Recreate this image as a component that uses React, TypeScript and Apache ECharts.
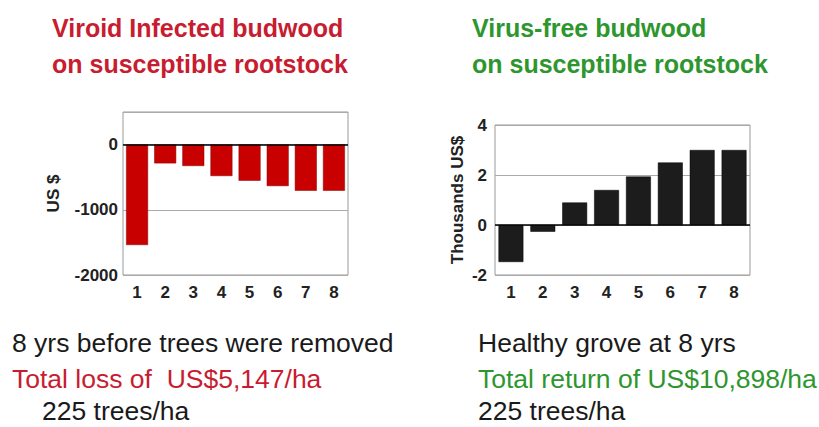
import React, { useEffect, useRef } from "react";
import * as echarts from "echarts";

const years = ["1", "2", "3", "4", "5", "6", "7", "8"];
const viroidLoss = [-1540, -288, -328, -482, -554, -636, -708, -708];
const virusFreeReturn = [-1.48, -0.27, 0.9, 1.4, 1.94, 2.5, 3.0, 3.0];

const leftTitle = ["Viroid Infected budwood", "on susceptible rootstock"];
const rightTitle = ["Virus-free budwood", "on susceptible rootstock"];
const leftNotes = ["8 yrs before trees were removed", "Total loss of  US$5,147/ha", "225 trees/ha"];
const rightNotes = ["Healthy grove at 8 yrs", "Total return of US$10,898/ha", "225 trees/ha"];

const RED = "#c81c30";
const GREEN = "#2e962e";
const FONT = "Liberation Sans, Arial, sans-serif";

export default function App() {
  const ref = useRef<HTMLDivElement>(null);
  useEffect(() => {
    if (!ref.current) return;
    const chart = echarts.init(ref.current, null, { renderer: "svg" });
    const axisLabel = { fontSize: 17, fontWeight: "bold", color: "#222", fontFamily: FONT };
    const nameStyle = { fontSize: 17, fontWeight: "bold", color: "#222", fontFamily: FONT };
    const txt = (x: number, y: number, text: string, color: string, size: number, bold: boolean) => ({
      type: "text",
      x,
      y,
      style: {
        text,
        fill: color,
        font: `${bold ? "bold " : ""}${size}px ${FONT}`,
        lineHeight: Math.round(size),
        textAlign: "left",
        textVerticalAlign: "middle",
      },
    });
    const zeroLine = {
      symbol: "none",
      silent: true,
      label: { show: false },
      lineStyle: { color: "#000", width: 1.5, type: "solid" },
      data: [{ yAxis: 0 }],
    };
    chart.setOption({
      animation: false,
      backgroundColor: "#fff",
      grid: [
        { left: 123, top: 112, width: 225, height: 163, show: true, borderColor: "#999", borderWidth: 1, backgroundColor: "transparent" },
        { left: 495, top: 125, width: 255, height: 150, show: true, borderColor: "#999", borderWidth: 1, backgroundColor: "transparent" },
      ],
      xAxis: [0, 1].map((i) => ({
        type: "category",
        gridIndex: i,
        data: years,
        axisLine: { show: false, onZero: false },
        axisTick: { show: false },
        axisLabel: { ...axisLabel, margin: 9 },
      })),
      yAxis: [
        {
          type: "value",
          gridIndex: 0,
          min: -2000,
          max: 500,
          interval: 1000,
          name: "US $",
          nameLocation: "middle",
          nameGap: 61,
          nameTextStyle: nameStyle,
          axisLine: { show: false },
          axisTick: { show: false },
          axisLabel: {
            ...axisLabel,
            margin: 5,
            showMaxLabel: false,
            formatter: (v: number) => (v % 1000 === 0 ? String(v) : ""),
          },
          splitLine: { show: true, lineStyle: { color: "#aaa", width: 1 } },
        },
        {
          type: "value",
          gridIndex: 1,
          min: -2,
          max: 4,
          interval: 2,
          name: "Thousands US$",
          nameLocation: "middle",
          nameGap: 29,
          nameTextStyle: nameStyle,
          axisLine: { show: false },
          axisTick: { show: false },
          axisLabel: { ...axisLabel, margin: 8 },
          splitLine: { show: true, lineStyle: { color: "#aaa", width: 1 } },
        },
      ],
      series: [
        {
          type: "bar",
          xAxisIndex: 0,
          yAxisIndex: 0,
          data: viroidLoss,
          barCategoryGap: "22%",
          itemStyle: { color: "#c80000", borderColor: "#8a0000", borderWidth: 0.5 },
          markLine: zeroLine,
        },
        {
          type: "bar",
          xAxisIndex: 1,
          yAxisIndex: 1,
          data: virusFreeReturn,
          barCategoryGap: "22%",
          itemStyle: { color: "#1c1c1c", borderColor: "#000", borderWidth: 0.5 },
          markLine: zeroLine,
        },
      ],
      graphic: [
        txt(52, 28, leftTitle[0], RED, 25, true),
        txt(52, 64, leftTitle[1], RED, 25, true),
        txt(472, 28, rightTitle[0], GREEN, 25, true),
        txt(472, 64, rightTitle[1], GREEN, 25, true),
        txt(12, 343, leftNotes[0], "#1a1a1a", 26.5, false),
        txt(12, 379, leftNotes[1], RED, 26.5, false),
        txt(42, 411, leftNotes[2], "#1a1a1a", 26.5, false),
        txt(478, 343, rightNotes[0], "#1a1a1a", 26.5, false),
        txt(478, 379, rightNotes[1], GREEN, 26.5, false),
        txt(478, 411, rightNotes[2], "#1a1a1a", 26.5, false),
      ],
    });
    return () => chart.dispose();
  }, []);
  return (
    <div
      ref={ref}
      style={{ position: "absolute", left: 0, top: 0, width: 819, height: 427, background: "#fff" }}
    />
  );
}
